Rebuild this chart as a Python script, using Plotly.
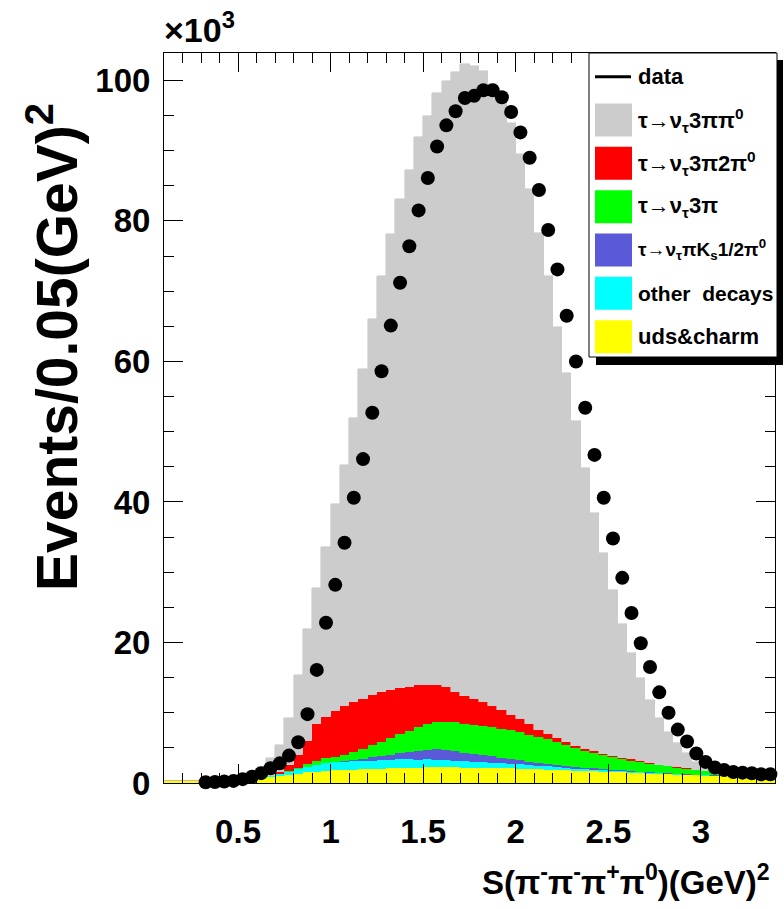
import plotly.graph_objects as go

# Bin centres of S(pi- pi- pi+ pi0) in GeV^2 (bin width 0.05)
mass_centers = [
    0.125, 0.175, 0.225, 0.275, 0.325, 0.375, 0.425, 0.475, 0.525, 0.575,
    0.625, 0.675, 0.725, 0.775, 0.825, 0.875, 0.925, 0.975, 1.025, 1.075,
    1.125, 1.175, 1.225, 1.275, 1.325, 1.375, 1.425, 1.475, 1.525, 1.575,
    1.625, 1.675, 1.725, 1.775, 1.825, 1.875, 1.925, 1.975, 2.025, 2.075,
    2.125, 2.175, 2.225, 2.275, 2.325, 2.375, 2.425, 2.475, 2.525, 2.575,
    2.625, 2.675, 2.725, 2.775, 2.825, 2.875, 2.925, 2.975, 3.025, 3.075,
    3.125, 3.175, 3.225, 3.275, 3.325, 3.375,
]

# Events per bin, in units of 10^3
uds_charm = [
    0.3, 0.3, 0.3, 0.3, 0.3, 0.3, 0.3, 0.3, 0.3, 0.4,
    0.6, 0.8, 1.0, 1.2, 1.35, 1.5, 1.6, 1.7, 1.8, 1.85,
    1.9, 1.95, 2.0, 2.05, 2.1, 2.15, 2.2, 2.2, 2.25, 2.25,
    2.25, 2.25, 2.2, 2.2, 2.2, 2.15, 2.1, 2.1, 2.05, 2.0,
    1.95, 1.9, 1.85, 1.8, 1.75, 1.7, 1.65, 1.6, 1.55, 1.5,
    1.45, 1.4, 1.35, 1.3, 1.25, 1.2, 1.15, 1.1, 1.05, 1.0,
    0.95, 0.9, 0.9, 0.85, 0.85, 0.8,
]
other_decays = [
    0, 0, 0, 0, 0, 0, 0, 0, 0, 0,
    0.1, 0.2, 0.3, 0.4, 0.6, 0.8, 1.0, 1.1, 1.15, 1.2,
    1.2, 1.2, 1.2, 1.2, 1.2, 1.2, 1.15, 1.1, 1.1, 1.05,
    1.0, 0.95, 0.9, 0.85, 0.8, 0.75, 0.7, 0.65, 0.6, 0.55,
    0.5, 0.45, 0.4, 0.35, 0.3, 0.28, 0.25, 0.22, 0.2, 0.18,
    0.15, 0.13, 0.12, 0.1, 0.08, 0.07, 0.05, 0.05, 0.05, 0.05,
    0.05, 0.05, 0.05, 0.05, 0.05, 0.05,
]
pi_ks = [
    0, 0, 0, 0, 0, 0, 0, 0, 0, 0,
    0, 0, 0, 0, 0, 0, 0, 0.05, 0.1, 0.15,
    0.2, 0.3, 0.45, 0.6, 0.75, 0.9, 1.1, 1.25, 1.4, 1.5,
    1.45, 1.35, 1.2, 1.1, 1.0, 0.9, 0.8, 0.7, 0.6, 0.5,
    0.45, 0.4, 0.35, 0.3, 0.25, 0.2, 0.18, 0.15, 0.12, 0.1,
    0.08, 0.06, 0.05, 0.04, 0.03, 0.03, 0.03, 0.03, 0.03, 0.03,
    0.03, 0.03, 0.03, 0.03, 0.03, 0.03,
]
three_pi = [
    0, 0, 0, 0, 0, 0, 0, 0, 0, 0,
    0, 0, 0.05, 0.1, 0.25, 0.45, 0.6, 0.65, 0.7, 0.8,
    1.1, 1.45, 1.75, 2.05, 2.35, 2.75, 2.95, 3.35, 3.65, 3.9,
    4.05, 4.1, 4.15, 4.15, 4.1, 4.1, 4.1, 4.05, 3.95, 3.85,
    3.7, 3.45, 3.2, 2.95, 2.7, 2.42, 2.22, 2.03, 1.83, 1.62,
    1.52, 1.41, 1.23, 1.11, 0.99, 0.9, 0.82, 0.72, 0.62, 0.52,
    0.42, 0.32, 0.22, 0.17, 0.07, 0.07,
]
three_pi_2pi0 = [
    0, 0, 0, 0, 0, 0, 0, 0, 0, 0,
    0, 0, 0.15, 0.9, 1.8, 3.2, 5.2, 5.9, 6.5, 6.9,
    7.1, 7.0, 7.1, 7.0, 6.8, 6.5, 6.3, 6.1, 5.6, 5.2,
    4.95, 4.25, 3.95, 3.7, 3.5, 3.1, 2.7, 2.2, 1.9, 1.5,
    1.0, 0.8, 0.6, 0.5, 0.3, 0.2, 0.2, 0.1, 0.15, 0.1,
    0.2, 0.2, 0.05, 0.05, 0.05, 0.02, 0.02, 0.02, 0.01, 0.01,
    0.01, 0.01, 0.01, 0.01, 0.01, 0.01,
]
three_pi_pi0 = [
    0, 0, 0, 0, 0.05, 0.1, 0.2, 0.35, 0.6, 1.1,
    1.6, 2.6, 3.9, 6.6, 11.4, 16.0, 19.3, 24.2, 29.4, 34.3,
    40.4, 47.0, 53.6, 59.2, 65.0, 69.6, 73.5, 77.9, 81.0, 84.3,
    86.2, 88.3, 89.9, 90.0, 89.7, 88.5, 86.6, 84.3, 80.4, 76.1,
    70.7, 65.1, 58.5, 52.5, 46.2, 40.0, 33.9, 28.6, 23.55, 19.1,
    15.1, 11.7, 9.0, 6.6, 4.9, 3.48, 2.13, 1.08, 0.54, 0.19,
    0.04, 0, 0, 0, 0, 0,
]
data_counts = [
    None, None, None, None, 0.1, 0.15, 0.2, 0.3, 0.55, 0.9,
    1.4, 2.1, 2.8, 3.9, 5.8, 9.8, 16.1, 22.8, 28.2, 34.2,
    40.6, 46.1, 52.7, 58.6, 65.1, 71.2, 76.4, 81.5, 86.1, 90.6,
    93.6, 95.6, 97.5, 97.8, 98.6, 98.6, 97.6, 95.5, 92.6, 89.0,
    84.4, 78.7, 73.1, 66.5, 60.0, 53.4, 46.7, 40.6, 34.8, 29.2,
    24.2, 19.9, 16.5, 12.9, 10.0, 7.6, 5.9, 4.2, 3.0, 2.2,
    1.85, 1.57, 1.47, 1.38, 1.24, 1.24,
]

x_ticks = [0.5, 1.0, 1.5, 2.0, 2.5, 3.0]
x_tick_text = ["0.5", "1", "1.5", "2", "2.5", "3"]
y_ticks = [0, 20, 40, 60, 80, 100]
y_tick_text = ["0", "20", "40", "60", "80", "100"]

legend_labels = [
    "τ→ν<sub>τ</sub>3ππ<sup>0</sup>",
    "τ→ν<sub>τ</sub>3π2π<sup>0</sup>",
    "τ→ν<sub>τ</sub>3π",
    "τ→ν<sub>τ</sub>πK<sub>s</sub>1/2π<sup>0</sup>",
    "other\u00a0 decays",
    "uds&amp;charm",
]
legend_sizes = [22, 22, 22, 19, 21, 22]

# stacking order, bottom to top
stack = [
    (uds_charm, "#ffff00"),
    (other_decays, "#00ffff"),
    (pi_ks, "#5a5ad8"),
    (three_pi, "#00ff00"),
    (three_pi_2pi0, "#ff0000"),
    (three_pi_pi0, "#cccccc"),
]
legend_colors = ["#cccccc", "#ff0000", "#00ff00", "#5a5ad8", "#00ffff", "#ffff00"]

W, H = 784, 909
FL, FR, FT, FB = 164, 775, 53, 783  # frame edges in pixels
FONT = "Liberation Sans, Arial, sans-serif"


def px(x):
    return (x - FL) / (FR - FL)


def py(y):
    return (FB - y) / (FB - FT)


def bold(size):
    return dict(family=FONT, size=size, color="black", weight="bold")


fig = go.Figure()
for vals, col in stack:
    fig.add_trace(go.Bar(
        x=mass_centers, y=vals, width=0.05,
        marker=dict(color=col, line=dict(width=0.6, color=col)),
        showlegend=False, hoverinfo="skip",
    ))

fig.add_trace(go.Scatter(
    x=mass_centers, y=data_counts, mode="markers",
    marker=dict(color="black", size=14, line=dict(width=0)),
    cliponaxis=False, showlegend=False,
))

axis_common = dict(
    showgrid=False, zeroline=False, showline=True, linecolor="black",
    linewidth=1, mirror="ticks", ticks="inside", tickcolor="black",
    tickwidth=1, ticklen=19, tickfont=bold(33),
)

fig.update_layout(
    width=W, height=H,
    margin=dict(l=FL, r=W - FR, t=FT, b=H - FB, pad=0),
    paper_bgcolor="white", plot_bgcolor="white",
    barmode="stack", bargap=0,
    xaxis=dict(
        range=[0.1, 3.4], tickvals=x_ticks, ticktext=x_tick_text,
        minor=dict(dtick=0.1, tick0=0.1, ticklen=10, ticks="inside",
                   tickcolor="black", tickwidth=1),
        ticklabelstandoff=19,
        **axis_common,
    ),
    yaxis=dict(
        range=[0, 103.9], tickvals=y_ticks, ticktext=y_tick_text,
        minor=dict(dtick=5, tick0=0, ticklen=10, ticks="inside",
                   tickcolor="black", tickwidth=1),
        ticklabelstandoff=6,
        **axis_common,
    ),
    showlegend=False,
)

annotations = [
    dict(text="×10<sup>3</sup>", x=px(162), y=py(51), xanchor="left",
         yanchor="bottom", font=bold(34)),
    dict(text="Events/0.05(GeV)<sup>2</sup>", textangle=-90,
         x=px(53), y=py(347), xanchor="center", yanchor="middle",
         font=bold(57)),
    dict(text="S(π<sup>-</sup>π<sup>-</sup>π<sup>+</sup>π<sup>0</sup>)(GeV)<sup>2</sup>",
         x=px(772), y=py(880), xanchor="right", yanchor="middle",
         font=bold(33)),
]

shapes = []
# legend box with drop shadow
LX0, LX1, LY0, LY1 = 589, 777, 53, 357
shapes.append(dict(type="rect", xref="paper", yref="paper", layer="above",
                   x0=px(LX0 + 7), x1=px(LX1 + 6), y0=py(LY0 + 7), y1=py(LY1 + 8),
                   fillcolor="black", line=dict(width=0)))
shapes.append(dict(type="rect", xref="paper", yref="paper", layer="above",
                   x0=px(LX0), x1=px(LX1), y0=py(LY0), y1=py(LY1),
                   fillcolor="white", line=dict(color="black", width=1)))

row_y = [76.7, 120, 163.3, 206.7, 250, 293.3, 336.7]
# data entry: a line sample
shapes.append(dict(type="line", xref="paper", yref="paper", layer="above",
                   x0=px(595), x1=px(631), y0=py(row_y[0]), y1=py(row_y[0]),
                   line=dict(color="black", width=3)))
annotations.append(dict(text="data", x=px(636), y=py(row_y[0]), xanchor="left",
                        yanchor="middle", font=bold(22)))
for i, (lab, col, fs) in enumerate(zip(legend_labels, legend_colors, legend_sizes)):
    yc = row_y[i + 1]
    shapes.append(dict(type="rect", xref="paper", yref="paper", layer="above",
                       x0=px(595), x1=px(632), y0=py(yc + 16.5), y1=py(yc - 16.5),
                       fillcolor=col, line=dict(width=0)))
    annotations.append(dict(text=lab, x=px(636), y=py(yc), xanchor="left",
                            yanchor="middle", font=bold(fs)))

for a in annotations:
    a.setdefault("xref", "paper")
    a.setdefault("yref", "paper")
    a.setdefault("showarrow", False)

fig.update_layout(annotations=annotations, shapes=shapes)
fig.write_html("out.html")
